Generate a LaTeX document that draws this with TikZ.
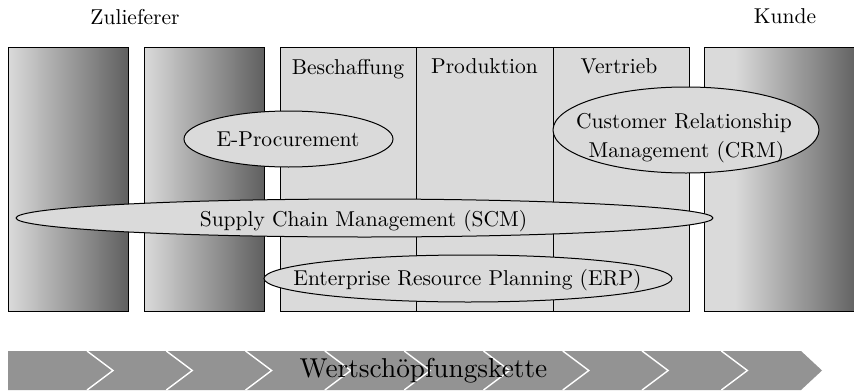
\documentclass[tikz,border=0pt]{standalone}
\usepackage{fontspec}
\setmainfont{lmroman10-regular}[Extension=.otf]
\usetikzlibrary{shapes.geometric}
\definecolor{lightfill}{HTML}{DADADA}
\definecolor{gradlight}{HTML}{DADADA}
\definecolor{graddark}{HTML}{606060}
\definecolor{chevfill}{HTML}{939393}
\pgfdeclarehorizontalshading{kundeshade}{100bp}{color(0bp)=(gradlight); color(35bp)=(gradlight); color(75bp)=(graddark); color(100bp)=(graddark)}
\tikzset{
  gradbox/.style={draw=black, line width=1pt, left color=gradlight, right color=graddark},
  colbox/.style={draw=black, line width=1pt, fill=lightfill},
  oval/.style={ellipse, draw=black, line width=1pt, fill=lightfill, inner sep=0pt},
  lbl/.style={anchor=base, inner sep=0pt, font=\fontsize{21.5}{29}\selectfont, align=center},
  bigl/.style={anchor=base, inner sep=0pt, font=\fontsize{27.3}{32}\selectfont},
  chevline/.style={draw=white, line width=1.4pt}
}
\begin{document}
\begin{tikzpicture}[x=1pt, y=-1pt]
\useasboundingbox (0,0) rectangle (854,391);
% headers
\node[lbl] (zul) at (135,24) {Zulieferer};
\node[lbl] (kun) at (785,23.5) {Kunde};
% columns
\node[gradbox, minimum width=120pt, minimum height=264pt, inner sep=0pt] (b1) at (68,179) {};
\node[gradbox, minimum width=120pt, minimum height=264pt, inner sep=0pt] (b2) at (204,179) {};
\node[colbox, minimum width=136pt, minimum height=264pt, inner sep=0pt] (c1) at (348,179) {};
\node[colbox, minimum width=137pt, minimum height=264pt, inner sep=0pt] (c2) at (484.5,179) {};
\node[colbox, minimum width=136pt, minimum height=264pt, inner sep=0pt] (c3) at (621,179) {};
\begin{scope}
\clip (0,0) rectangle (854,391);
\node[draw=black, line width=1pt, shading=kundeshade, minimum width=154pt, minimum height=264pt, inner sep=0pt] (kb) at (781,179) {};
\end{scope}
\node[lbl] (tbes) at (348,74) {Beschaffung};
\node[lbl] (tpro) at (484.5,73.5) {Produktion};
\node[lbl] (tver) at (619,73.5) {Vertrieb};
% ellipses
\node[oval, minimum width=697pt, minimum height=38pt] (scm) at (364.5,218) {};
\node[lbl] (tscm) at (363.5,226) {Supply Chain Management (SCM)};
\node[oval, minimum width=408pt, minimum height=47pt] (erp) at (468,278.5) {};
\node[lbl] (terp) at (467.5,285) {Enterprise Resource Planning (ERP)};
\node[oval, minimum width=209pt, minimum height=56pt] (ep) at (288.5,139) {};
\node[lbl] (tep) at (288,146.5) {E-Procurement};
\node[oval, minimum width=266pt, minimum height=86pt] (crm) at (686,130) {};
\node[lbl] (tcrm1) at (684,128) {Customer Relationship};
\node[lbl] (tcrm2) at (686.5,157) {Management (CRM)};
% value chain arrow
\coordinate (a1) at (8,351);
\coordinate (a2) at (801,351);
\coordinate (a3) at (822,370.5);
\coordinate (a4) at (801,390);
\coordinate (a5) at (8,390);
\fill[chevfill] (a1) -- (a2) -- (a3) -- (a4) -- (a5) -- cycle;
\foreach \k in {0,...,8}{
  \pgfmathsetmacro{\xx}{87+79.3*\k}
  \coordinate (ct\k) at (\xx,351);
  \coordinate (cm\k) at (\xx+26,370.5);
  \coordinate (cb\k) at (\xx,390);
  \draw[chevline] (ct\k) -- (cm\k) -- (cb\k);
}
\node[bigl] (wsk) at (423.5,377.3) {Wertschöpfungskette};
\end{tikzpicture}
\end{document}
